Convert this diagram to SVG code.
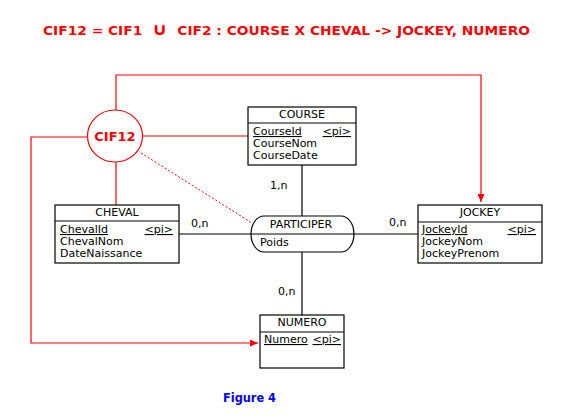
<svg xmlns="http://www.w3.org/2000/svg" width="571" height="418" viewBox="0 0 571 418">
<style>
.bg{fill:#fff}
.box{fill:#fff;stroke:#000;stroke-width:1.2}
.sep{stroke:#000;stroke-width:1.2}
.t{font-family:"DejaVu Sans",Verdana,sans-serif;font-size:11px;fill:#000}
.c{text-anchor:middle}
.e{text-anchor:end}
.u{text-decoration:underline}
.bl{stroke:#000;stroke-width:1.2;fill:none}
.rl{stroke:#f00;stroke-width:1.2;fill:none}
.rd{stroke:#f00;stroke-width:1;fill:none;stroke-dasharray:2,2}
.title{font-family:"DejaVu Sans",Verdana,sans-serif;font-weight:bold;font-size:12px;fill:#f00}
.cif{font-family:"DejaVu Sans",Verdana,sans-serif;font-weight:bold;font-size:13px;fill:#f00;text-anchor:middle}
.fig{font-family:"DejaVu Sans",Verdana,sans-serif;font-weight:bold;font-size:12px;fill:#00f}
</style>
<defs>
<marker id="ar" viewBox="0 0 8 7" refX="8" refY="3.5" markerWidth="8" markerHeight="7" markerUnits="userSpaceOnUse" orient="auto">
<path d="M0,0 L8,3.5 L0,7 Z" fill="#f00"/>
</marker>
</defs>
<rect class="bg" x="0" y="0" width="571" height="418"/>
<text class="title" x="43" y="35" textLength="487" lengthAdjust="spacingAndGlyphs" xml:space="preserve">CIF12 = CIF1  <tspan font-size="17px">∪</tspan>  CIF2 : COURSE X CHEVAL -&gt; JOCKEY, NUMERO</text>

<g id="connectors">
<line class="bl" x1="302" y1="165" x2="302" y2="216"/>
<line class="bl" x1="302" y1="252" x2="302" y2="315"/>
<line class="bl" x1="179" y1="234" x2="251" y2="234"/>
<line class="bl" x1="354" y1="234" x2="418" y2="234"/>
<text class="t" x="270" y="189">1,n</text>
<text class="t" x="191" y="227">0,n</text>
<text class="t" x="389" y="226">0,n</text>
<text class="t" x="278" y="295">0,n</text>
<polyline class="rl" points="116,110 116,75 481,75 481,202" marker-end="url(#ar)"/>
<polyline class="rl" points="88,137 31,137 31,343 258,343" marker-end="url(#ar)"/>
<line class="rl" x1="142" y1="136" x2="248" y2="136"/>
<line class="rl" x1="116" y1="162" x2="116" y2="205"/>
<line class="rd" x1="141" y1="153" x2="252" y2="223"/>
</g>

<g id="cif12">
<ellipse cx="115" cy="136" rx="27.5" ry="26" fill="#fff" stroke="#f00" stroke-width="1.2"/>
<text class="cif" x="115" y="141">CIF12</text>
</g>

<g id="course">
<rect class="box" x="248" y="107" width="108" height="58"/>
<line class="sep" x1="248" y1="123" x2="356" y2="123"/>
<text class="t c" x="302" y="118">COURSE</text>
<text class="t u" x="253" y="135">CourseId</text>
<text class="t u e" x="351" y="135">&lt;pi&gt;</text>
<text class="t" x="253" y="147">CourseNom</text>
<text class="t" x="253" y="159">CourseDate</text>
</g>

<g id="cheval">
<rect class="box" x="55" y="205" width="124" height="58"/>
<line class="sep" x1="55" y1="221" x2="179" y2="221"/>
<text class="t c" x="117" y="216">CHEVAL</text>
<text class="t u" x="60" y="233">ChevalId</text>
<text class="t u e" x="173" y="233">&lt;pi&gt;</text>
<text class="t" x="60" y="245">ChevalNom</text>
<text class="t" x="60" y="257">DateNaissance</text>
</g>

<g id="participer">
<rect class="box" x="251" y="216" width="103" height="36" rx="13" ry="18"/>
<line class="sep" x1="251" y1="234" x2="354" y2="234"/>
<text class="t c" x="301" y="228">PARTICIPER</text>
<text class="t" x="260" y="246">Poids</text>
</g>

<g id="jockey">
<rect class="box" x="418" y="205" width="124" height="58"/>
<line class="sep" x1="418" y1="222" x2="542" y2="222"/>
<text class="t c" x="480" y="216">JOCKEY</text>
<text class="t u" x="422" y="233">JockeyId</text>
<text class="t u e" x="536" y="233">&lt;pi&gt;</text>
<text class="t" x="422" y="245">JockeyNom</text>
<text class="t" x="422" y="257">JockeyPrenom</text>
</g>

<g id="numero">
<rect class="box" x="260" y="315" width="84" height="53"/>
<line class="sep" x1="260" y1="332" x2="344" y2="332"/>
<text class="t c" x="302" y="326">NUMERO</text>
<text class="t u" x="264" y="343">Numero</text>
<text class="t u e" x="341" y="343">&lt;pi&gt;</text>
</g>

<text class="fig" x="223" y="402" textLength="53" lengthAdjust="spacingAndGlyphs">Figure 4</text>
</svg>
